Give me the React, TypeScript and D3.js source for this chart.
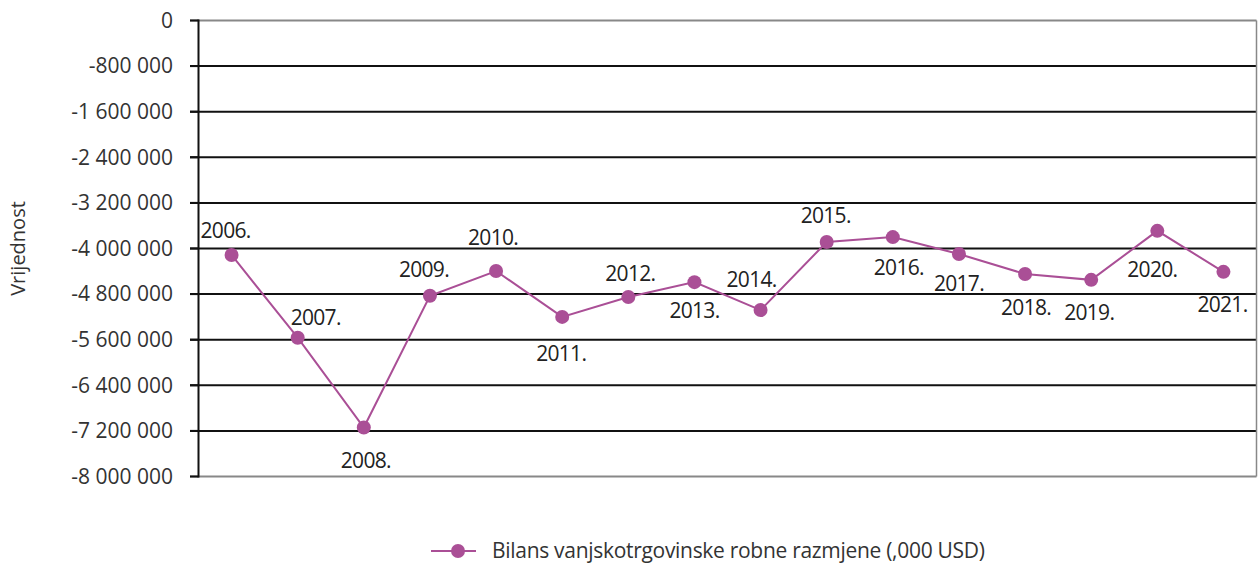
import React from "react";
import * as d3 from "d3";

const years = ["2006.", "2007.", "2008.", "2009.", "2010.", "2011.", "2012.", "2013.", "2014.", "2015.", "2016.", "2017.", "2018.", "2019.", "2020.", "2021."];
const values = [-4114000, -5565000, -7140000, -4830000, -4395000, -5200000, -4850000, -4590000, -5080000, -3886000, -3800000, -4096000, -4447000, -4550000, -3690000, -4410000];
const tickValues = [0, -800000, -1600000, -2400000, -3200000, -4000000, -4800000, -5600000, -6400000, -7200000, -8000000];
// label offsets [dx, dy] relative to the point
const labelOffsets: [number, number][] = [
  [-6, -24], [18, -20], [2, 33], [-6, -26], [-3, -33], [-1, 37], [2, -23], [0, 29],
  [-9, -30], [-1, -26], [6, 31], [0, 30], [1, 34], [-2, 33], [-5, 39], [-1, 33],
];
const seriesName = "Bilans vanjskotrgovinske robne razmjene (,000 USD)";
const axisTitle = "Vrijednost";

const W = 1259, H = 566;
const left = 198.5, right = 1256.5, top = 20.5, bottom = 476.5;
const color = "#AA4F96";
const font = "'Open Sans', sans-serif";

const fmt = (v: number) => {
  if (v === 0) return "0";
  const s = Math.abs(v).toString().replace(/\B(?=(\d{3})+(?!\d))/g, " ");
  return "-" + s;
};

export default function App() {
  const x = d3.scaleBand<string>().domain(years).range([left, right]);
  const y = d3.scaleLinear().domain([-8000000, 0]).range([bottom, top]);
  const line = d3.line<number>().x((_, i) => (x(years[i]) as number) + x.bandwidth() / 2).y((d) => y(d));
  return (
    <svg width={W} height={H} style={{ position: "absolute", left: 0, top: 0, background: "#fff" }} fontFamily={font}>
      {tickValues.map((t, i) => (
        <g key={i}>
          <line x1={190} x2={right} y1={y(t)} y2={y(t)} stroke={t === 0 || t === -8000000 ? "#888" : "#111"} strokeWidth={2} />
          <line x1={190} x2={left} y1={y(t)} y2={y(t)} stroke="#111" strokeWidth={2} />
          <text x={173} y={y(t)} dy="0.35em" textAnchor="end" fontSize={21} fill="#333" style={{ whiteSpace: "pre" }}>{fmt(t)}</text>
        </g>
      ))}
      <line x1={right} x2={right} y1={top} y2={bottom} stroke="#888" strokeWidth={1.5} />
      <line x1={left} x2={left} y1={top - 1} y2={bottom + 1} stroke="#111" strokeWidth={2} />
      <text transform={`translate(25,${(top + bottom) / 2}) rotate(-90)`} textAnchor="middle" fontSize={20} fill="#333">{axisTitle}</text>
      <path d={line(values) || ""} fill="none" stroke={color} strokeWidth={2} />
      {values.map((v, i) => {
        const cx = (x(years[i]) as number) + x.bandwidth() / 2;
        const cy = y(v);
        const [dx, dy] = labelOffsets[i];
        return (
          <g key={i}>
            <circle cx={cx} cy={cy} r={7} fill={color} />
            <text x={cx + dx} y={cy + dy} dy="0.35em" textAnchor="middle" fontSize={21} fill="#222" letterSpacing={-0.7}>{years[i]}</text>
          </g>
        );
      })}
      <g>
        <line x1={431} x2={476} y1={551} y2={551} stroke={color} strokeWidth={2} />
        <circle cx={458} cy={551} r={7} fill={color} />
        <text x={492} y={551} dy="0.35em" fontSize={21} fill="#333" letterSpacing={-0.3}>{seriesName}</text>
      </g>
    </svg>
  );
}
